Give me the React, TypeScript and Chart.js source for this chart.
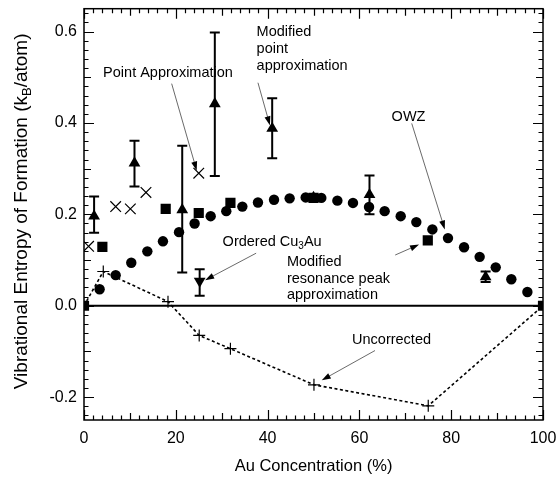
import React, { useEffect, useRef } from 'react';
import { Chart, registerables } from 'chart.js';
Chart.register(...registerables);

// OWZ (filled circles)
const owzX = [3.4, 6.9, 10.3, 13.8, 17.2, 20.7, 24.1, 27.6, 31.0, 34.5, 37.9, 41.4, 44.8, 48.3, 51.7, 55.2, 58.6, 62.1, 65.5, 69.0, 72.4, 75.9, 79.3, 82.8, 86.2, 89.7, 93.1, 96.6];
const owzY = [0.036, 0.067, 0.094, 0.119, 0.141, 0.161, 0.180, 0.196, 0.207, 0.217, 0.226, 0.232, 0.235, 0.237, 0.236, 0.230, 0.225, 0.216, 0.207, 0.196, 0.183, 0.167, 0.148, 0.128, 0.107, 0.084, 0.058, 0.030];

// Modified resonance peak approximation (filled squares)
const sqX = [0, 4.0, 17.8, 25.0, 31.9, 50.0, 74.9, 100];
const sqY = [0, 0.129, 0.212, 0.203, 0.225, 0.236, 0.143, 0];

// Modified point approximation (triangles with error bars)
const triX = [2.2, 11.0, 21.4, 28.5, 41.0, 50.0, 62.2, 87.5];
const triY = [0.196, 0.312, 0.21, 0.442, 0.388, 0.237, 0.243, 0.063];
const triHi = [0.239, 0.361, 0.35, 0.598, 0.454, 0.243, 0.285, 0.075];
const triLo = [0.16, 0.261, 0.073, 0.284, 0.323, 0.230, 0.20, 0.052];

// Ordered Cu3Au (down triangle)
const ordX = [25.2];
const ordY = [0.054];
const ordHi = [0.08];
const ordLo = [0.022];

// Point approximation (x crosses)
const ptX = [1.0, 6.9, 10.1, 13.5, 25.0];
const ptY = [0.13, 0.217, 0.212, 0.248, 0.29];

// Uncorrected (dashed, + markers)
const unX = [0, 4.2, 18.3, 25.1, 31.9, 50.1, 75.0, 100];
const unY = [0, 0.075, 0.009, -0.065, -0.094, -0.173, -0.219, 0];

const xTickVals = [0, 20, 40, 60, 80, 100];
const yTickVals = [-0.2, 0.0, 0.2, 0.4, 0.6];

const xTitle = 'Au Concentration (%)';

// annotations (data coordinates)
const labelText = [['Point Approximation'], ['Modified', 'point', 'approximation'], ['OWZ'], ['Modified', 'resonance peak', 'approximation'], ['Uncorrected']];
const labelX = [18.3, 37.6, 70.7, 44.2, 67.0];
const labelY = [0.509, 0.598, 0.413, 0.096, -0.076];
const labelAlign = ['center', 'left', 'center', 'left', 'center'];

const arrowX0 = [19.1, 37.9, 71.4, 37.5, 67.8, 63.4];
const arrowY0 = [0.486, 0.488, 0.399, 0.115, 0.111, -0.098];
const arrowX1 = [24.55, 40.5, 78.6, 26.4, 73.0, 51.8];
const arrowY1 = [0.296, 0.395, 0.167, 0.056, 0.134, -0.163];

const FONT = '"Liberation Sans", Arial, Helvetica, sans-serif';

const pts = (xs: number[], ys: number[]) => xs.map((x, i) => ({ x, y: ys[i] }));

const zeroPad = (s: any) => {
  s.paddingTop = 0; s.paddingBottom = 0; s.paddingLeft = 0; s.paddingRight = 0;
};

const overlay = {
  id: 'overlay',
  afterDatasetsDraw(chart: any) {
    const { ctx, chartArea: a, scales } = chart;
    const x = scales.x, y = scales.y;
    ctx.save();
    // error bars
    const drawErr = (xs: number[], lo: number[], hi: number[]) => {
      ctx.strokeStyle = '#000';
      ctx.lineWidth = 2;
      xs.forEach((xv, i) => {
        const px = x.getPixelForValue(xv);
        const p1 = y.getPixelForValue(lo[i]);
        const p2 = y.getPixelForValue(hi[i]);
        ctx.beginPath();
        ctx.moveTo(px, p1); ctx.lineTo(px, p2);
        ctx.moveTo(px - 5, p1); ctx.lineTo(px + 5, p1);
        ctx.moveTo(px - 5, p2); ctx.lineTo(px + 5, p2);
        ctx.stroke();
      });
    };
    drawErr(triX, triLo, triHi);
    drawErr(ordX, ordLo, ordHi);

    // frame
    ctx.strokeStyle = '#000';
    ctx.lineWidth = 1.5;
    ctx.strokeRect(a.left, a.top, a.right - a.left, a.bottom - a.top);
    // inward ticks
    ctx.lineWidth = 1.2;
    ctx.beginPath();
    for (let i = 0; i <= 50; i++) {
      const v = i * 2;
      const len = v % 20 === 0 ? 10 : v % 10 === 0 ? 7 : 4.5;
      const px = Math.round(x.getPixelForValue(v)) + 0.5;
      ctx.moveTo(px, a.bottom); ctx.lineTo(px, a.bottom - len);
      ctx.moveTo(px, a.top); ctx.lineTo(px, a.top + len);
    }
    for (let i = -12; i <= 32; i++) {
      const v = i * 0.02;
      const len = i % 10 === 0 ? 10 : i % 5 === 0 ? 7 : 4.5;
      const py = Math.round(y.getPixelForValue(v)) + 0.5;
      ctx.moveTo(a.left, py); ctx.lineTo(a.left + len, py);
      ctx.moveTo(a.right, py); ctx.lineTo(a.right - len, py);
    }
    ctx.stroke();

    // arrows
    arrowX0.forEach((_, i) => {
      const x0 = x.getPixelForValue(arrowX0[i]);
      const y0 = y.getPixelForValue(arrowY0[i]);
      const x1 = x.getPixelForValue(arrowX1[i]);
      const y1 = y.getPixelForValue(arrowY1[i]);
      const ang = Math.atan2(y1 - y0, x1 - x0);
      ctx.strokeStyle = '#444';
      ctx.lineWidth = 0.8;
      ctx.beginPath();
      ctx.moveTo(x0, y0); ctx.lineTo(x1 - Math.cos(ang) * 6, y1 - Math.sin(ang) * 6);
      ctx.stroke();
      ctx.fillStyle = '#000';
      ctx.beginPath();
      ctx.moveTo(x1, y1);
      ctx.lineTo(x1 - Math.cos(ang) * 9 + Math.sin(ang) * 3, y1 - Math.sin(ang) * 9 - Math.cos(ang) * 3);
      ctx.lineTo(x1 - Math.cos(ang) * 9 - Math.sin(ang) * 3, y1 - Math.sin(ang) * 9 + Math.cos(ang) * 3);
      ctx.closePath();
      ctx.fill();
    });

    // labels
    ctx.fillStyle = '#000';
    ctx.textBaseline = 'middle';
    ctx.font = `14.5px ${FONT}`;
    labelText.forEach((lines, i) => {
      const px = x.getPixelForValue(labelX[i]);
      const py = y.getPixelForValue(labelY[i]);
      ctx.textAlign = labelAlign[i] as CanvasTextAlign;
      lines.forEach((t, j) => ctx.fillText(t, px, py + j * 16.7));
    });
    // Ordered Cu3Au with subscript
    {
      let px = x.getPixelForValue(30.2);
      const py = y.getPixelForValue(0.139);
      ctx.textAlign = 'left';
      ctx.font = `14.5px ${FONT}`;
      ctx.fillText('Ordered Cu', px, py);
      px += ctx.measureText('Ordered Cu').width;
      ctx.font = `10px ${FONT}`;
      ctx.fillText('3', px, py + 4);
      px += ctx.measureText('3').width;
      ctx.font = `14.5px ${FONT}`;
      ctx.fillText('Au', px, py);
    }

    // axis titles
    ctx.font = `16.5px ${FONT}`;
    ctx.textAlign = 'center';
    ctx.fillText(xTitle, (a.left + a.right) / 2, a.bottom + 46);
    {
      ctx.translate(22, (a.top + a.bottom) / 2 - 3);
      ctx.rotate(-Math.PI / 2);
      const big = `19px ${FONT}`, small = `13px ${FONT}`;
      const segs: [string, string, number][] = [
        ['Vibrational Entropy of Formation (k', big, 0],
        ['B', small, 5],
        ['/atom)', big, 0],
      ];
      let total = 0;
      segs.forEach(([t, f]) => { ctx.font = f; total += ctx.measureText(t).width; });
      let cx = -total / 2;
      ctx.textAlign = 'left';
      segs.forEach(([t, f, dy]) => { ctx.font = f; ctx.fillText(t, cx, dy); cx += ctx.measureText(t).width; });
    }
    ctx.restore();
  },
};

export default function App() {
  const ref = useRef<HTMLCanvasElement>(null);
  useEffect(() => {
    if (!ref.current) return;
    const chart = new Chart(ref.current, {
      type: 'scatter',
      data: {
        datasets: [
          { label: 'zero', type: 'line', data: [{ x: 0, y: 0 }, { x: 100, y: 0 }], borderColor: '#000', borderWidth: 2, pointRadius: 0, order: 6 } as any,
          { label: 'Uncorrected', type: 'line', data: pts(unX, unY), borderColor: '#000', borderWidth: 1.6, borderDash: [3, 2.5], pointStyle: 'cross', pointRadius: unX.map((v) => (v === 0 || v === 100 ? 0 : 6)), pointBorderWidth: 1.2, pointBorderColor: '#000', backgroundColor: '#000', order: 5 } as any,
          { label: 'OWZ', data: pts(owzX, owzY), pointStyle: 'circle', pointRadius: 5.2, backgroundColor: '#000', borderColor: '#000', borderWidth: 0, order: 3 },
          { label: 'Squares', data: pts(sqX, sqY), pointStyle: 'rect', pointRadius: 7.2, backgroundColor: '#000', borderColor: '#000', borderWidth: 0, order: 2 },
          { label: 'Modified point approximation', data: pts(triX, triY), pointStyle: 'triangle', pointRadius: 6.8, backgroundColor: '#000', borderColor: '#000', borderWidth: 0, order: 1 },
          { label: 'Ordered Cu3Au', data: pts(ordX, ordY), pointStyle: 'triangle', rotation: 180, pointRotation: 180, pointRadius: 6.8, backgroundColor: '#000', borderColor: '#000', borderWidth: 0, order: 1 } as any,
          { label: 'Point Approximation', data: pts(ptX, ptY), pointStyle: 'crossRot', pointRadius: 7.5, borderColor: '#000', borderWidth: 1.2, backgroundColor: '#000', order: 4 },
        ],
      },
      options: {
        animation: false,
        responsive: false,
        events: [],
        layout: { padding: { left: 0, right: 14, top: 7.5, bottom: 0 } },
        plugins: { legend: { display: false }, tooltip: { enabled: false } },
        scales: {
          x: {
            type: 'linear', min: 0, max: 100,
            afterFit: (s: any) => { s.height = 60; zeroPad(s); },
            afterBuildTicks: (s: any) => { s.ticks = xTickVals.map((v) => ({ value: v })); },
            ticks: { color: '#000', font: { family: FONT, size: 16 }, padding: 9, maxRotation: 0, callback: (v: any) => String(v) },
            grid: { display: false, drawTicks: false },
            border: { display: false },
          },
          y: {
            type: 'linear', min: -0.25, max: 0.65,
            afterFit: (s: any) => { s.width = 84; zeroPad(s); },
            afterBuildTicks: (s: any) => { s.ticks = yTickVals.map((v) => ({ value: v })); },
            ticks: { color: '#000', font: { family: FONT, size: 16 }, padding: 7, callback: (v: any) => Number(v).toFixed(1) },
            grid: { display: false, drawTicks: false },
            border: { display: false },
          },
        },
      },
      plugins: [overlay],
    });
    return () => chart.destroy();
  }, []);
  return (
    <div style={{ position: 'fixed', left: 0, top: 0, width: 557, height: 480, background: '#fff' }}>
      <canvas ref={ref} width={557} height={480} />
    </div>
  );
}
